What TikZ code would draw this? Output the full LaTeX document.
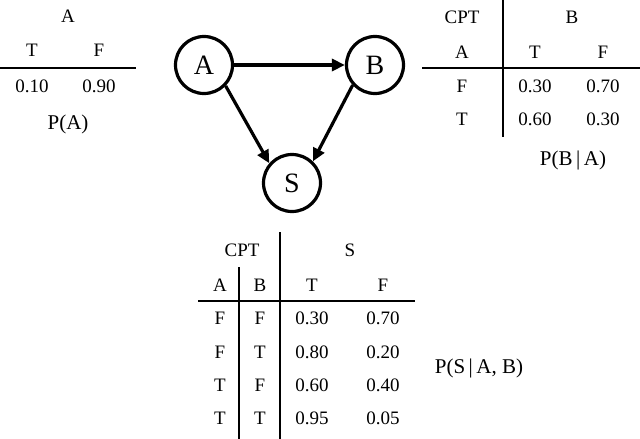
\documentclass[tikz,border=0pt]{standalone}
\usepackage{fontspec}
\setmainfont{Liberation Serif}
\usetikzlibrary{arrows.meta}
\begin{document}
\begin{tikzpicture}[x=1pt,y=-1pt,
  var/.style={circle,draw,line width=3.2pt,minimum size=57pt,inner sep=0pt,font=\fontsize{28}{30}\selectfont},
  edge/.style={line width=3.2pt,-{Triangle[length=13pt,width=12pt]}},
  cell/.style={inner sep=0pt,anchor=center,font=\fontsize{19}{21}\selectfont},
  lab/.style={inner sep=0pt,anchor=center,font=\fontsize{21}{23}\selectfont},
  rule/.style={line width=2.4pt}]
\useasboundingbox (0,0) rectangle (640,439);
% Network
\node[var] (A) at (204,65) {A};
\node[var] (B) at (375,65) {B};
\node[var] (S) at (292,183) {S};
\draw[edge] (A) -- (B);
\draw[edge] (A.-44) -- (S.139);
\draw[edge] (B.222) -- (S.46);
% Table P(A)
\node[cell] (pa_h) at (68,16) {A};
\node[cell] (pa_t) at (32,50) {T};
\node[cell] (pa_f) at (99,50) {F};
\coordinate (pa_l1) at (0,68);
\coordinate (pa_l2) at (136,68);
\draw[rule] (pa_l1) -- (pa_l2);
\node[cell] (pa_v1) at (32,86) {0.10};
\node[cell] (pa_v2) at (99,86) {0.90};
\node[lab] (pa_lab) at (68,124) {P(A)};
% Table P(B|A)
\coordinate (pb_v1) at (503,0);
\coordinate (pb_v2) at (503,137);
\coordinate (pb_h1) at (422,68);
\coordinate (pb_h2) at (640,68);
\draw[rule] (pb_v1) -- (pb_v2);
\draw[rule] (pb_h1) -- (pb_h2);
\node[cell] (pb_cpt) at (462,17) {CPT};
\node[cell] (pb_b) at (572,17) {B};
\node[cell] (pb_a) at (462,52) {A};
\node[cell] (pb_t) at (535,52) {T};
\node[cell] (pb_f) at (603,52) {F};
\node[cell] (pb_r1) at (462,86) {F};
\node[cell] (pb_r1t) at (535,86) {0.30};
\node[cell] (pb_r1f) at (603,86) {0.70};
\node[cell] (pb_r2) at (462,119) {T};
\node[cell] (pb_r2t) at (535,119) {0.60};
\node[cell] (pb_r2f) at (603,119) {0.30};
\node[lab] (pb_lab) at (573,160) {P(B\,|\,A)};
% Table P(S|A,B)
\coordinate (ps_v1) at (280,232);
\coordinate (ps_v2) at (280,439);
\coordinate (ps_w1) at (239,267);
\coordinate (ps_w2) at (239,439);
\coordinate (ps_h1) at (198,301);
\coordinate (ps_h2) at (415,301);
\draw[rule] (ps_v1) -- (ps_v2);
\draw[rule] (ps_w1) -- (ps_w2);
\draw[rule] (ps_h1) -- (ps_h2);
\node[cell] (ps_cpt) at (242,250) {CPT};
\node[cell] (ps_s) at (350,250) {S};
\node[cell] (ps_a) at (220,285) {A};
\node[cell] (ps_b) at (260,285) {B};
\node[cell] (ps_t) at (312,285) {T};
\node[cell] (ps_f) at (383,285) {F};
\foreach \y/\a/\b/\t/\f [count=\i] in {318/F/F/0.30/0.70, 352/F/T/0.80/0.20, 385/T/F/0.60/0.40, 418/T/T/0.95/0.05}{
  \node[cell] (ps_a\i) at (220,\y) {\a};
  \node[cell] (ps_b\i) at (260,\y) {\b};
  \node[cell] (ps_t\i) at (312,\y) {\t};
  \node[cell] (ps_f\i) at (383,\y) {\f};
}
\node[lab] (ps_lab) at (479,368) {P(S\,|\,A, B)};
\end{tikzpicture}
\end{document}
